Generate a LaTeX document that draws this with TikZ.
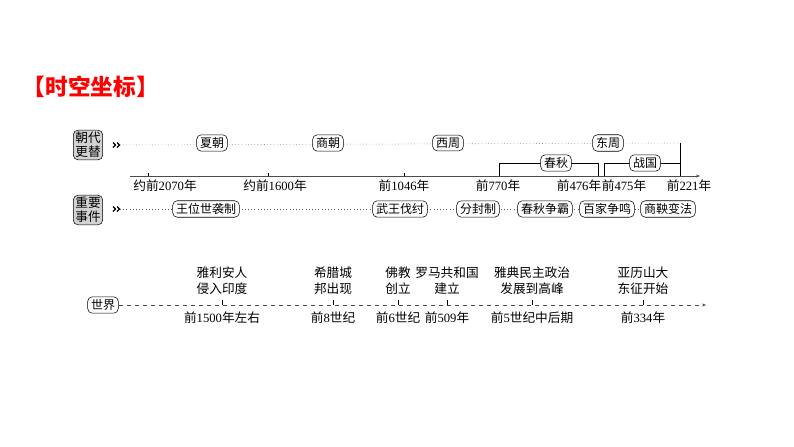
\documentclass[tikz,border=0pt]{standalone}
\usepackage{fontspec}
\setmainfont{Noto Sans CJK SC}
\newfontfamily\tnr{Liberation Serif}
\usetikzlibrary{arrows.meta}
\begin{document}
\begin{tikzpicture}[x=0.75pt,y=-0.75pt,
  lab/.style={draw,rounded corners=3.5pt,fill=white,inner xsep=2.5pt,inner ysep=2pt,font=\fontsize{9}{10}\selectfont},
  side/.style={draw,rounded corners=3.5pt,fill=gray!35,inner sep=1.5pt,align=center,font=\fontsize{9.5}{10.5}\selectfont},
  dot/.style={dotted,gray!70!black},
  chev/.style={line width=0.9pt},
  txt/.style={font=\fontsize{9.5}{11}\selectfont,align=center,inner sep=0pt},
  yr/.style={font=\fontsize{9.5}{11}\selectfont,inner sep=0pt}]
\useasboundingbox (0,0) rectangle (794,447);
\node[red,font=\bfseries\fontsize{17}{19}\selectfont,anchor=west] (title) at (18,87) {【时空坐标】};
% row 1
\node[side] (s1) at (88,145) {朝代\\更替};
\coordinate (g1) at (120,145);
\draw[chev] (113,142.5) -- (115.5,145) -- (113,147.5) (117,142.5) -- (119.5,145) -- (117,147.5);
\coordinate (e1) at (680,143);
\draw[dot] (g1) -- (e1);
\draw (e1) -- (680,176);
\foreach \n/\x/\t in {xia/212/夏朝,shang/328/商朝,xz/448/西周,dz/608/东周}
  \node[lab] (\n) at (\x,143) {\t};
% timeline
\coordinate (t0) at (130,176); \coordinate (t1) at (700,176);
\draw[gray!60!black,-{Stealth[length=3pt]}] (t0) -- (t1);
\foreach \x in {148,268,404} \draw (\x,173) -- (\x,176);
\draw (499,176) -- (499,163) -- (598,163) -- (598,176);
\node[lab] (cq) at (556,163) {春秋};
\draw (604,176) -- (604,163) -- (680,163);
\node[lab] (zg) at (645,163) {战国};
\foreach \x/\t in {165/约前{\tnr 2070}年,275/约前{\tnr 1600}年,404/前{\tnr 1046}年,498/前{\tnr 770}年,579/前{\tnr 476}年,624/前{\tnr 475}年,689/前{\tnr 221}年}
  \node[yr] at (\x,186) {\t};
% row 2
\node[side] (s2) at (88,210) {重要\\事件};
\coordinate (g2) at (120,209);
\draw[chev] (113,206.5) -- (115.5,209) -- (113,211.5) (117,206.5) -- (119.5,209) -- (117,211.5);
\coordinate (e2) at (640,209);
\draw[dot] (g2) -- (e2);
\foreach \n/\x/\t in {a/206/王位世袭制,b/400/武王伐纣,c/478/分封制,d/545/春秋争霸,e/607/百家争鸣,f/668/商鞅变法}
  \node[lab] (\n) at (\x,209) {\t};
% world
\node[lab] (w) at (103,305) {世界};
\coordinate (we) at (706,305);
\draw[dashed,gray!60!black,-{Stealth[length=3pt]}] (w.east) -- (we);
\foreach \x/\a/\b/\c in {222/雅利安人/侵入印度/前{\tnr 1500}年左右,333/希腊城/邦出现/前{\tnr 8}世纪,398/佛教/创立/前{\tnr 6}世纪,447/罗马共和国/建立/前{\tnr 509}年,532/雅典民主政治/发展到高峰/前{\tnr 5}世纪中后期,643/亚历山大/东征开始/前{\tnr 334}年}{
  \draw (\x,300) -- (\x,305);
  \node[txt] at (\x,281) {\a\\[1pt]\b};
  \node[yr] at (\x,318) {\c};
}
\end{tikzpicture}
\end{document}
